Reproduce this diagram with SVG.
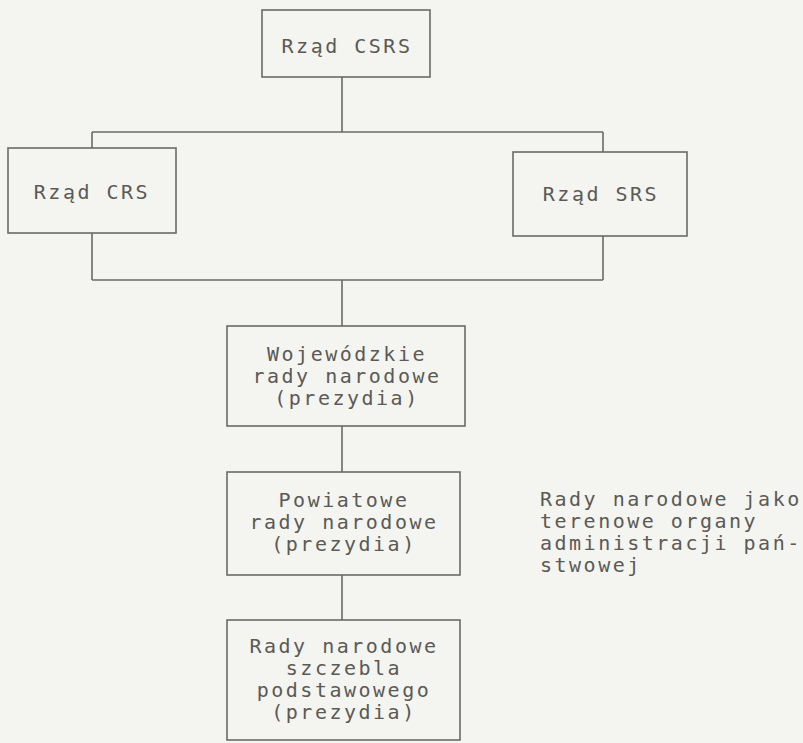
<svg xmlns="http://www.w3.org/2000/svg" width="803" height="743" viewBox="0 0 803 743">
<style>
.box{fill:none;stroke:#6a6a66;stroke-width:1.6}
.ln{fill:none;stroke:#6a6a66;stroke-width:1.6}
text{font-family:"DejaVu Sans Mono","Liberation Mono",monospace;font-size:20px;fill:#5a5a56;letter-spacing:2.5px}
.c{text-anchor:middle}
</style>
<rect width="803" height="743" fill="#f4f4f0"/>
<g id="connectors">
<path class="ln" d="M342 77V132M92 132H603M92 132V148M603 132V152M92 233V280M603 236V280M92 280H603M342 280V326M342 426V472M342 575V620"/>
</g>
<g id="n-csrs"><rect class="box" x="262" y="10" width="168" height="67"/><text class="c" x="347" y="53">Rząd CSRS</text></g>
<g id="n-crs"><rect class="box" x="8" y="148" width="168" height="85"/><text class="c" x="92" y="199">Rząd CRS</text></g>
<g id="n-srs"><rect class="box" x="513" y="152" width="174" height="84"/><text class="c" x="601" y="201">Rząd SRS</text></g>
<g id="n-woj"><rect class="box" x="227" y="326" width="238" height="100"/>
<text class="c" x="347" y="361">Wojewódzkie</text><text class="c" x="347" y="383">rady narodowe</text><text class="c" x="347" y="405">(prezydia)</text></g>
<g id="n-pow"><rect class="box" x="227" y="472" width="233" height="103"/>
<text class="c" x="344" y="507">Powiatowe</text><text class="c" x="344" y="529">rady narodowe</text><text class="c" x="344" y="551">(prezydia)</text></g>
<g id="n-podst"><rect class="box" x="227" y="620" width="233" height="120"/>
<text class="c" x="344" y="653">Rady narodowe</text><text class="c" x="344" y="675">szczebla</text><text class="c" x="344" y="697">podstawowego</text><text class="c" x="344" y="719">(prezydia)</text></g>
<g id="note">
<text x="540" y="506">Rady narodowe jako</text><text x="540" y="528">terenowe organy</text><text x="540" y="550">administracji pań-</text><text x="540" y="572">stwowej</text></g>
</svg>
